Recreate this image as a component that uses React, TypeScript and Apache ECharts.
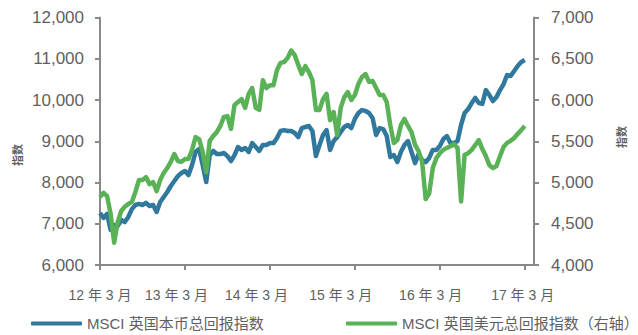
import React, { useEffect, useRef } from 'react';
import * as echarts from 'echarts';

// Series are sampled every half month, starting March 2012.
const STEP_MONTHS = 0.5;

// MSCI UK total return index, local currency (left axis)
const ukLocalCcy: number[] = [
  7260, 7140, 7240, 6850, 6970, 6945, 7090, 7040, 7165, 7355,
  7455, 7480, 7455, 7505, 7430, 7455, 7285, 7525, 7650, 7770,
  7915, 8035, 8155, 8230, 8280, 8180, 8425, 8740, 8810, 8425,
  8010, 8665, 8765, 8690, 8690, 8715, 8640, 8520, 8665, 8860,
  8790, 8835, 8740, 8955, 8860, 8765, 8910, 8910, 8955, 8955,
  9080, 9250, 9270, 9250, 9250, 9200, 9100, 9320, 9345, 9370,
  9250, 8640, 8910, 9150, 9270, 8790, 9005, 9100, 9225, 9345,
  9395, 9320, 9540, 9685, 9755, 9735, 9685, 9565, 9150, 9320,
  9295, 9125, 8620, 8665, 8495, 8740, 8910, 9005, 8740, 8470,
  8690, 8545, 8495, 8595, 8790, 8790, 8885, 9055, 9125, 8955,
  8955, 9005, 9395, 9685, 9780, 9925, 10050, 9925, 9905, 10240,
  10120, 9975, 10070, 10240, 10385, 10605, 10580, 10705, 10825, 10920,
  10970,
];

// MSCI UK total return index, US dollars (right axis)
const ukUsd: number[] = [
  4825, 4875, 4835, 4620, 4270, 4520, 4655, 4705, 4740, 4765,
  4885, 5030, 5030, 5065, 4980, 5005, 4895, 5030, 5115, 5175,
  5250, 5345, 5260, 5250, 5285, 5285, 5395, 5550, 5525, 5370,
  5125, 5505, 5565, 5610, 5685, 5795, 5805, 5650, 5940, 5975,
  6010, 5905, 6075, 6145, 5905, 5880, 6240, 6145, 6180, 6180,
  6365, 6450, 6460, 6510, 6600, 6545, 6425, 6315, 6410, 6340,
  6240, 5880, 5880, 6010, 6075, 5755, 5855, 5575, 5905, 6035,
  6095, 6000, 6060, 6195, 6280, 6315, 6220, 6230, 6145, 6060,
  6060, 5975, 5695, 5480, 5515, 5695, 5770, 5685, 5610, 5455,
  5380, 5250, 4800, 4870, 5175, 5295, 5355, 5395, 5420, 5440,
  5465, 5420, 4770, 5335, 5355, 5395, 5455, 5515, 5405, 5320,
  5210, 5175, 5200, 5320, 5430, 5480, 5505, 5540, 5590, 5635,
  5685,
];

const seriesNames = ['MSCI 英国本币总回报指数', 'MSCI 英国美元总回报指数（右轴）'];

// Year ticks (months since March 2012) and their date labels
const tickMonths = [0, 12, 24, 36, 48, 60];
const tickLabels = ['12 年 3 月', '13 年 3 月', '14 年 3 月', '15 年 3 月', '16 年 3 月', '17 年 3 月'];
// where each date label sits along the axis
const labelAnchors = [0, 10.8, 22.1, 34.0, 46.7, 59.7];

const AXIS_COLOR = '#898989';
const TEXT_COLOR = '#5f5f5f';
const FONT = '"Liberation Sans", Arial, "Noto Sans CJK SC", sans-serif';
const BLUE = '#31789d';
const GREEN = '#59b256';

const thousands = (v: number) => v.toLocaleString('en-US');

export default function App() {
  const ref = useRef<HTMLDivElement>(null);

  useEffect(() => {
    if (!ref.current) return;
    const chart = echarts.init(ref.current, undefined, { renderer: 'svg' });

    const axisLine = { show: true, onZero: false, lineStyle: { color: AXIS_COLOR, width: 2 } };
    const axisTick = { show: true, length: 5, lineStyle: { color: AXIS_COLOR, width: 2 } };
    const yLabel = { color: TEXT_COLOR, fontSize: 17, fontFamily: FONT, formatter: thousands };

    const legendBase = {
      top: 316,
      padding: 0,
      itemWidth: 51,
      itemHeight: 4,
      icon: 'roundRect',
      textStyle: { color: TEXT_COLOR, fontSize: 15, fontFamily: FONT },
    };

    const titleText = (x: number, y: number) => ({
      type: 'text',
      x,
      y,
      rotation: Math.PI / 2,
      style: {
        text: '指数',
        fill: TEXT_COLOR,
        font: `bold 11px ${FONT}`,
        align: 'center',
        verticalAlign: 'middle',
      },
    });

    chart.setOption({
      animation: false,
      backgroundColor: '#ffffff',
      textStyle: { fontFamily: FONT },
      grid: { left: 100, right: 104, top: 17.5, bottom: 70, containLabel: false },
      xAxis: {
        type: 'value',
        min: 0,
        max: 61.3,
        interval: 12,
        axisLine,
        axisTick: { ...axisTick, customValues: tickMonths },
        axisLabel: {
          customValues: labelAnchors,
          color: TEXT_COLOR,
          fontSize: 14,
          fontFamily: FONT,
          margin: 23,
          formatter: (v: number) => {
            const k = labelAnchors.findIndex((m) => Math.abs(m - v) < 0.01);
            return k >= 0 ? tickLabels[k] : '';
          },
        },
        splitLine: { show: false },
      },
      yAxis: [
        {
          type: 'value',
          min: 6000,
          max: 12000,
          interval: 1000,
          axisLine,
          axisTick,
          axisLabel: { ...yLabel, margin: 16 },
          splitLine: { show: false },
        },
        {
          type: 'value',
          position: 'right',
          min: 4000,
          max: 7000,
          interval: 500,
          axisLine,
          axisTick,
          axisLabel: { ...yLabel, margin: 17 },
          splitLine: { show: false },
        },
      ],
      legend: [
        { ...legendBase, left: 31, data: [seriesNames[0]] },
        { ...legendBase, left: 346, data: [seriesNames[1]] },
      ],
      graphic: [titleText(18, 155), titleText(622, 137)],
      series: [
        {
          name: seriesNames[0],
          type: 'line',
          yAxisIndex: 0,
          showSymbol: false,
          color: BLUE,
          lineStyle: { width: 4.5, color: BLUE, join: 'round' },
          data: ukLocalCcy.map((v, i) => [i * STEP_MONTHS, v]),
        },
        {
          name: seriesNames[1],
          type: 'line',
          yAxisIndex: 1,
          showSymbol: false,
          color: GREEN,
          lineStyle: { width: 4.5, color: GREEN, join: 'round' },
          data: ukUsd.map((v, i) => [i * STEP_MONTHS, v]),
        },
      ],
    });

    return () => chart.dispose();
  }, []);

  return <div ref={ref} style={{ width: 638, height: 335, marginLeft: -8, marginTop: -8 }} />;
}
